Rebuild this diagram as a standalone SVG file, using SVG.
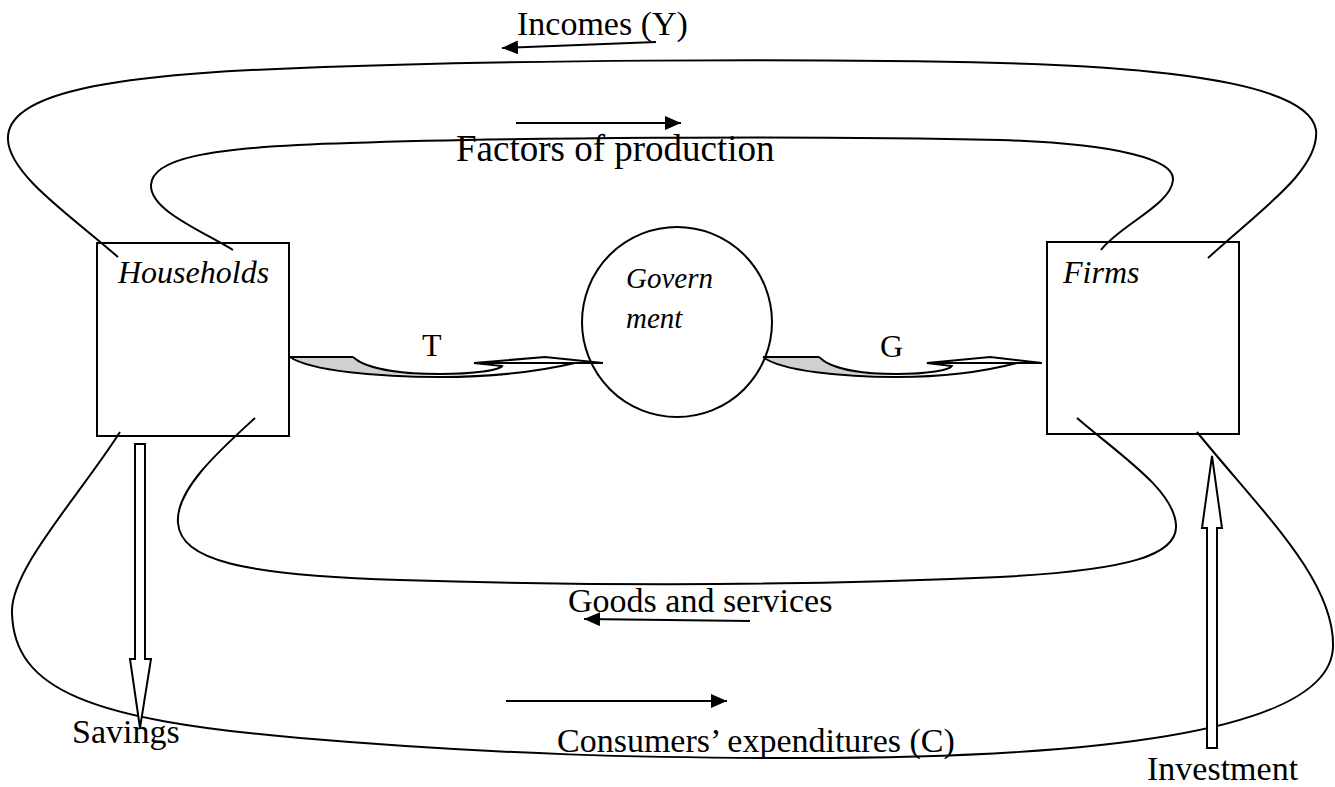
<svg xmlns="http://www.w3.org/2000/svg" width="1335" height="787" viewBox="0 0 1335 787">
<style>
  .ln { fill: none; stroke: #000; stroke-width: 2; }
  .box { fill: none; stroke: #000; stroke-width: 2; }
  .blk { fill: #fff; stroke: #000; stroke-width: 2; stroke-linejoin: miter; }
  .lbl { font-family: "Liberation Serif", "Times New Roman", serif; font-size: 34px; fill: #000; }
  .big { font-family: "Liberation Serif", "Times New Roman", serif; font-size: 37px; fill: #000; }
  .it { font-family: "Liberation Serif", "Times New Roman", serif; font-style: italic; fill: #000; }
  .sm { font-family: "Liberation Serif", "Times New Roman", serif; font-size: 32px; fill: #000; }
</style>
<defs>
  <marker id="ah" markerUnits="userSpaceOnUse" markerWidth="16" markerHeight="14" refX="16" refY="7" orient="auto">
    <path d="M0,0 L16,7 L0,14 Z" fill="#000"/>
  </marker>
  <g id="flow">
    <path d="M0,0 L63,0 C78,15 120,18 150,18 C90,19 20,13 0,0 Z" fill="#d0d0d0" stroke="none"/>
    <path class="ln" d="M0,0 L63,0"/>
    <path class="ln" d="M0,0 C20,14 90,20 150,20 C210,20 255,13 285,6"/>
    <path class="ln" d="M63,0 C78,14 120,17 150,17 C185,17 210,13 212,9 L184,6"/>
    <path class="ln" d="M184,6 L255,0 L313,6 Z" fill="#fff"/>
  </g>
</defs>
<rect width="1335" height="787" fill="#fff"/>

<g id="connectors">
  <!-- Incomes (Y) outer top loop -->
  <path class="ln" d="M118,257 C70,215 10,175 8,140 C5,95 100,75 300,68 C500,60 800,58 1000,63 C1200,68 1310,90 1316,130 C1320,170 1260,210 1208,258"/>
  <!-- Factors of production inner top loop -->
  <path class="ln" d="M233,250 C200,230 150,210 151,185 C152,160 200,147 350,143 C500,138 800,135 1000,140 C1120,144 1175,160 1173,180 C1171,205 1120,225 1101,250"/>
  <!-- Goods and services inner bottom loop -->
  <path class="ln" d="M255,418 C220,450 175,490 178,523 C181,560 240,575 400,580 C600,586 800,586 1000,577 C1130,570 1178,555 1176,525 C1174,490 1120,455 1077,418"/>
  <!-- Consumers' expenditures outer bottom loop -->
  <path class="ln" d="M120,432 C80,495 10,570 12,613 C14,690 90,720 300,738 C500,755 650,758 800,758 C1050,758 1330,740 1333,647 C1335,580 1260,510 1197,432"/>
  <!-- direction arrows -->
  <line class="ln" x1="656" y1="42" x2="502" y2="48" marker-end="url(#ah)"/>
  <line class="ln" x1="516" y1="123" x2="681" y2="123" marker-end="url(#ah)"/>
  <line class="ln" x1="750" y1="621" x2="584" y2="619" marker-end="url(#ah)"/>
  <line class="ln" x1="506" y1="701" x2="727" y2="701" marker-end="url(#ah)"/>
  <!-- T and G flows -->
  <use href="#flow" transform="translate(290,357)"/>
  <use href="#flow" transform="translate(763,357) scale(0.891,1)"/>
  <!-- Savings block arrow -->
  <path class="blk" d="M135,444 L145,444 L145,659 L151,659 L140,728 L130,659 L135,659 Z"/>
  <!-- Investment block arrow -->
  <path class="blk" d="M1207,748 L1217,748 L1217,528 L1222,528 L1212,456 L1202,528 L1207,528 Z"/>
</g>

<g id="households">
  <rect class="box" x="97" y="243" width="192" height="193"/>
  <text class="it" x="118" y="283" font-size="32">Households</text>
</g>
<g id="firms">
  <rect class="box" x="1047" y="242" width="192" height="192"/>
  <text class="it" x="1063" y="283" font-size="32">Firms</text>
</g>
<g id="government">
  <circle cx="677" cy="322" r="95" fill="none" stroke="#000" stroke-width="2"/>
  <text class="it" x="626" y="288" font-size="29">Govern</text>
  <text class="it" x="626" y="328" font-size="29">ment</text>
</g>

<g id="labels">
  <text class="lbl" x="517" y="35">Incomes (Y)</text>
  <text class="big" x="456" y="161">Factors of production</text>
  <text class="lbl" x="568" y="612">Goods and services</text>
  <text class="lbl" x="557" y="752">Consumers’ expenditures (C)</text>
  <text class="lbl" x="72" y="743">Savings</text>
  <text class="lbl" x="1147" y="780">Investment</text>
  <text class="sm" x="422" y="356">T</text>
  <text class="sm" x="880" y="357">G</text>
</g>
</svg>
